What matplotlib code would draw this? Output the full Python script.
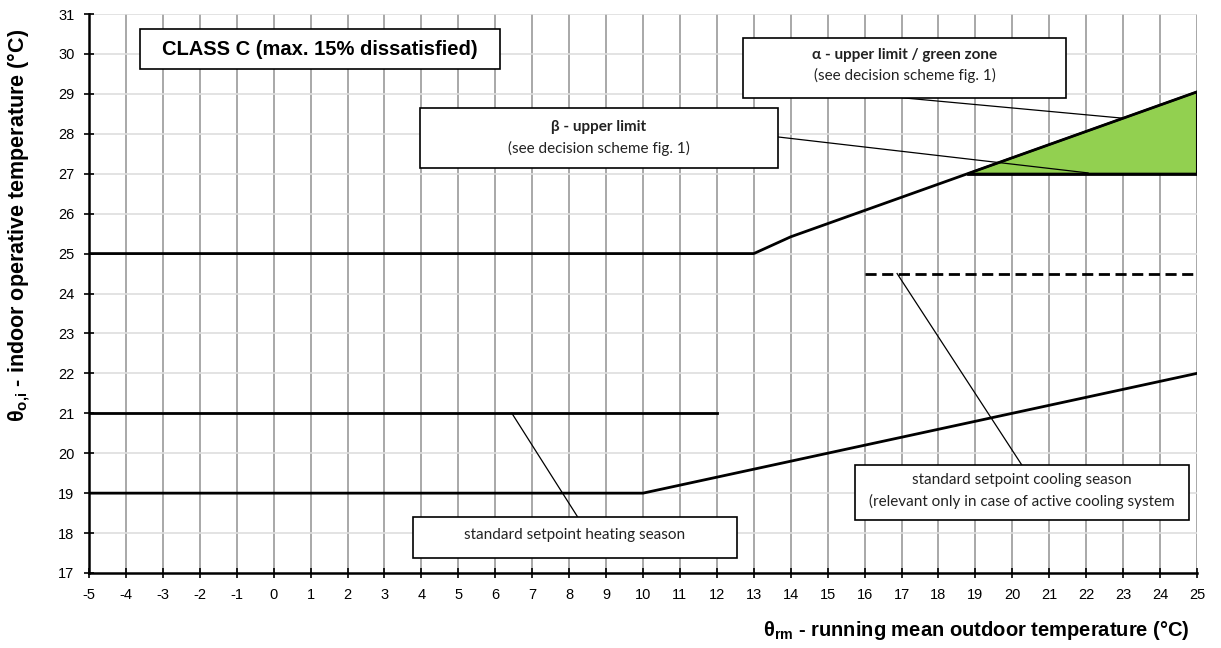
import matplotlib
matplotlib.use("Agg")
import matplotlib.pyplot as plt
from matplotlib.patches import Rectangle, Polygon

plt.rcParams['font.family'] = ['Liberation Sans', 'DejaVu Sans']
plt.rcParams['mathtext.fontset'] = 'custom'
plt.rcParams['mathtext.rm'] = 'Liberation Sans:bold'
plt.rcParams['mathtext.bf'] = 'Liberation Sans:bold'
plt.rcParams['mathtext.it'] = 'Liberation Sans:bold'

# ---- data ----
x_ticks = list(range(-5, 26))
y_ticks = list(range(17, 32))

upper_x = [-5, 13, 14, 15, 16, 17, 18, 19, 20, 21, 22, 23, 24, 25]
upper_y = [25.0, 25.0, 25.42, 25.75, 26.08, 26.41, 26.74, 27.07, 27.4, 27.73, 28.06, 28.39, 28.72, 29.05]

lower_x = [-5, 10, 11, 12, 13, 14, 15, 16, 17, 18, 19, 20, 21, 22, 23, 24, 25]
lower_y = [19.0, 19.0, 19.2, 19.4, 19.6, 19.8, 20.0, 20.2, 20.4, 20.6, 20.8, 21.0, 21.2, 21.4, 21.6, 21.8, 22.0]

heating_x = [-5, 12]
heating_y = [21.0, 21.0]

cooling_x = [16, 25]
cooling_y = [24.5, 24.5]

beta_x = [18.8, 25]
beta_y = [27.0, 27.0]

green_x = [18.8, 19, 20, 21, 22, 23, 24, 25, 25]
green_y = [27.0, 27.07, 27.4, 27.73, 28.06, 28.39, 28.72, 29.05, 27.0]

fig = plt.figure(figsize=(12.21, 6.48), dpi=100)
ax = fig.add_axes([89/1221, 1-573/648, (1197-89)/1221, (573-14)/648])
ax.set_xlim(-5, 25)
ax.set_ylim(17, 31)

# grid
for xv in x_ticks[1:]:
    ax.axvline(xv, color='#9a9a9a', lw=1.2, zorder=0)
for yv in y_ticks[1:]:
    ax.axhline(yv, color='#dedede', lw=1.2, zorder=0)

ax.spines['top'].set_visible(False)
ax.spines['right'].set_visible(False)
ax.spines['left'].set_linewidth(1.8)
ax.spines['bottom'].set_linewidth(1.8)
ax.set_xticks(x_ticks)
ax.set_yticks(y_ticks)
ax.set_xticklabels([str(v) for v in x_ticks])
ax.set_yticklabels([str(v) for v in y_ticks])
ax.tick_params(direction='inout', length=7, width=1.2, labelsize=10.5, pad=7)

# green zone
ax.add_patch(Polygon(list(zip(green_x, green_y)), closed=True, facecolor='#92d050',
                     edgecolor='black', lw=1.5, zorder=2))
ax.plot(beta_x, beta_y, color='black', lw=2, zorder=3)
ax.plot(upper_x, upper_y, color='black', lw=2, zorder=3)
ax.plot(lower_x, lower_y, color='black', lw=2, zorder=3)
ax.plot(heating_x, heating_y, color='black', lw=2, zorder=3)
ax.plot(cooling_x, cooling_y, color='black', lw=2, ls=(0, (4, 2)), zorder=3)

# annotation boxes
def box(x0, y0, x1, y1):
    ax.add_patch(Rectangle((x0, y0), x1 - x0, y1 - y0, facecolor='white',
                           edgecolor='black', lw=1.2, zorder=5))

def leader(p, q):
    ax.plot([p[0], q[0]], [p[1], q[1]], color='black', lw=0.9, zorder=4)

cal = ['Lato', 'DejaVu Sans']
tc = '#222222'

box(-3.62, 29.62, 6.13, 30.62)
ax.text((-3.62 + 6.13) / 2, 30.12, 'CLASS C (max. 15% dissatisfied)', ha='center', va='center',
        fontsize=14.5, fontweight='bold', zorder=6)

box(12.71, 28.9, 21.45, 30.4)
ax.text((12.71 + 21.45) / 2, 29.97, 'α - upper limit / green zone', ha='center', va='center',
        fontsize=11, fontweight='bold', family=cal, color=tc, zorder=6)
ax.text((12.71 + 21.45) / 2, 29.45, '(see decision scheme fig. 1)', ha='center', va='center',
        fontsize=11, family=cal, color=tc, zorder=6)
leader((17.04, 28.9), (23.0, 28.39))

box(3.96, 27.14, 13.66, 28.64)
ax.text((3.96 + 13.66) / 2, 28.17, 'β - upper limit', ha='center', va='center',
        fontsize=11, fontweight='bold', family=cal, color=tc, zorder=6)
ax.text((3.96 + 13.66) / 2, 27.64, '(see decision scheme fig. 1)', ha='center', va='center',
        fontsize=11, family=cal, color=tc, zorder=6)
leader((13.66, 27.92), (22.05, 27.02))

box(3.77, 17.37, 12.55, 18.39)
ax.text((3.77 + 12.55) / 2, 17.95, 'standard setpoint heating season', ha='center', va='center',
        fontsize=11, family=cal, color=tc, zorder=6)
leader((6.45, 21.0), (8.24, 18.39))

box(15.74, 18.32, 24.79, 19.70)
ax.text((15.74 + 24.79) / 2, 19.32, 'standard setpoint cooling season', ha='center', va='center',
        fontsize=11, family=cal, color=tc, zorder=6)
ax.text((15.74 + 24.79) / 2, 18.79, '(relevant only in case of active cooling system', ha='center', va='center',
        fontsize=11, family=cal, color=tc, zorder=6)
leader((16.88, 24.5), (20.26, 19.70))

fig.text(1190/1221, 1-630/648, r'θ$_{\mathrm{rm}}$ - running mean outdoor temperature (°C)',
         ha='right', va='center', fontsize=14.5, fontweight='bold')
fig.text(19/1221, 1-225/648, r'θ$_{\mathrm{o{,}i}}$ - indoor operative temperature (°C)',
         ha='center', va='center', rotation=90, fontsize=15.5, fontweight='bold')

fig.savefig('out.png', dpi=100)
